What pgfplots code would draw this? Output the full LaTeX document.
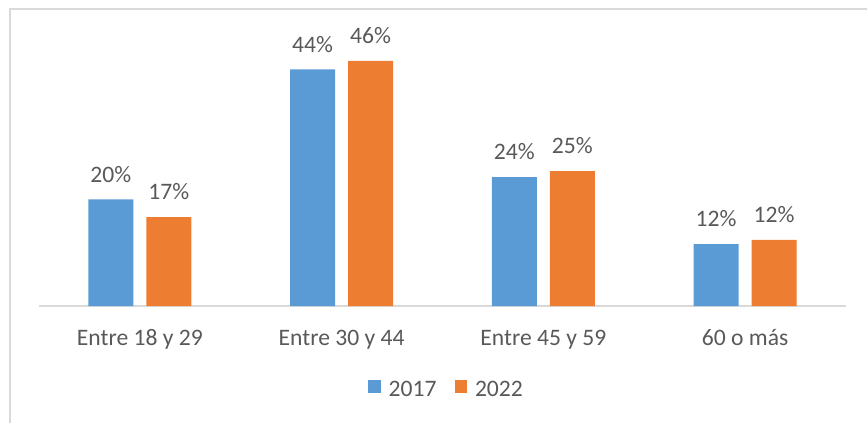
\documentclass[border=0pt]{standalone}
\usepackage{fontspec}
\setmainfont{Carlito}
\usepackage{pgfplots}
\pgfplotsset{compat=1.18}
\definecolor{cblue}{HTML}{5B9BD5}
\definecolor{corange}{HTML}{ED7D31}
\definecolor{ctext}{HTML}{595959}
\definecolor{cgrid}{HTML}{D9D9D9}
\newcommand{\lblfont}{\fontsize{23.6bp}{28bp}\selectfont}
\begin{document}
\begin{tikzpicture}
\begin{axis}[name=ax, scale only axis, width=807bp, height=293bp,
  xmin=-0.5, xmax=3.5, ymin=0, ymax=55,
  ybar=13bp, bar width=45bp,
  axis y line=none, axis x line*=bottom,
  x axis line style={cgrid, line width=1.2bp, -},
  xtick={0,1,2,3},
  xticklabels={Entre 18 y 29, Entre 30 y 44, Entre 45 y 59, 60 o más},
  major tick length=0pt,
  xticklabel style={font=\lblfont, text=ctext, inner sep=0pt, text height=15bp, text depth=5bp, anchor=north, yshift=-24bp},
  nodes near coords={\pgfmathprintnumber[fixed,precision=0]{\pgfplotspointmeta}\%},
  nodes near coords style={font=\lblfont, text=ctext, inner sep=0pt, anchor=south, yshift=17bp},
  /pgf/number format/assume math mode=true,
  legend style={at={(0.505,-0.2867)}, anchor=center, draw=none, fill=none, font=\lblfont, text=ctext,
    legend columns=-1, /tikz/every even column/.append style={column sep=16bp}},
  legend image code/.code={\fill[#1] (0bp,-3bp) rectangle (12.5bp,10bp); \path (18.5bp,0bp);},
]
\addplot[fill=cblue, draw=none] coordinates {(0,20) (1,44.4) (2,24.2) (3,11.6)};
\addplot[fill=corange, draw=none] coordinates {(0,16.7) (1,46) (2,25.3) (3,12.4)};
\legend{2017, 2022}
\end{axis}
\draw[cgrid, line width=1.2bp] ([shift={(-29bp,-140bp)}]ax.south west) rectangle ([shift={(850bp,297bp)}]ax.south west);
\pgfresetboundingbox
\useasboundingbox ([shift={(-39bp,-117bp)}]ax.south west) rectangle ([shift={(828bp,306bp)}]ax.south west);
\end{tikzpicture}
\end{document}
